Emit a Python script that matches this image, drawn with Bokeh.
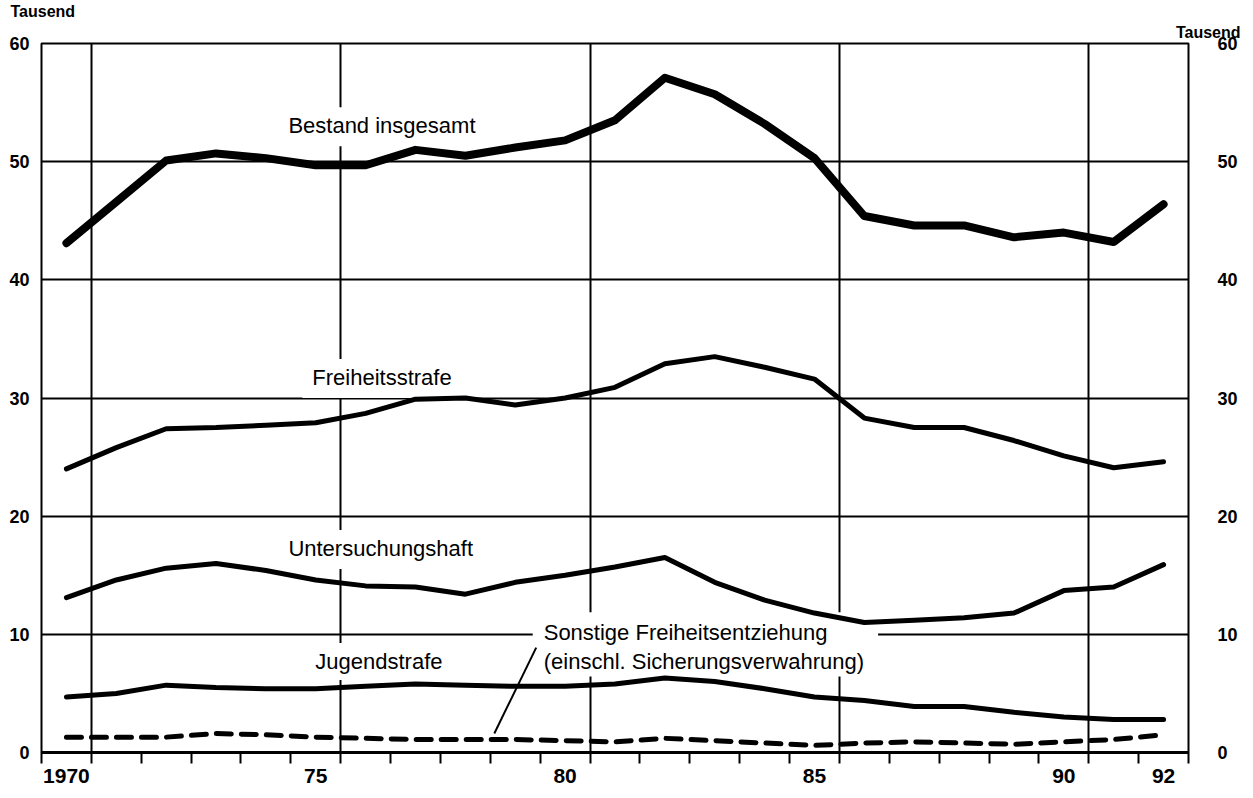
from bokeh.plotting import figure
from bokeh.models import Range1d, LinearAxis, FixedTicker, Label, Title
from bokeh.embed import file_html
from bokeh.resources import INLINE

years = list(range(1970, 1993))
bestand = [43.1, 46.6, 50.1, 50.7, 50.3, 49.7, 49.7, 51.0, 50.5, 51.2, 51.8, 53.5,
           57.1, 55.7, 53.2, 50.3, 45.4, 44.6, 44.6, 43.6, 44.0, 43.2, 46.4]
freiheitsstrafe = [24.0, 25.8, 27.4, 27.5, 27.7, 27.9, 28.7, 29.9, 30.0, 29.4, 30.0, 30.9,
                   32.9, 33.5, 32.6, 31.6, 28.3, 27.5, 27.5, 26.4, 25.1, 24.1, 24.6]
untersuchungshaft = [13.1, 14.6, 15.6, 16.0, 15.4, 14.6, 14.1, 14.0, 13.4, 14.4, 15.0, 15.7,
                     16.5, 14.4, 12.9, 11.8, 11.0, 11.2, 11.4, 11.8, 13.7, 14.0, 15.9]
jugendstrafe = [4.7, 5.0, 5.7, 5.5, 5.4, 5.4, 5.6, 5.8, 5.7, 5.6, 5.6, 5.8,
                6.3, 6.0, 5.4, 4.7, 4.4, 3.9, 3.9, 3.4, 3.0, 2.8, 2.8]
sonstige = [1.3, 1.3, 1.3, 1.6, 1.5, 1.3, 1.2, 1.1, 1.1, 1.1, 1.0, 0.9,
            1.2, 1.0, 0.8, 0.6, 0.8, 0.9, 0.8, 0.7, 0.9, 1.1, 1.5]

x_tick_labels = {1970: "1970", 1975: "75", 1980: "80", 1985: "85", 1990: "90", 1992: "92"}
y_ticks = [0, 10, 20, 30, 40, 50, 60]
grid_years = [1970.5, 1975.5, 1980.5, 1985.5, 1990.5]
unit_text = "Tausend"

FONT = "Liberation Sans"
W, H = 1253, 798

p = figure(width=W, height=H, output_backend="svg", toolbar_location=None,
           x_range=Range1d(1969.5, 1992.5), y_range=Range1d(0, 60),
           min_border_left=41, min_border_right=65, min_border_top=43, min_border_bottom=46,
           x_axis_location=None, y_axis_location=None)
p.background_fill_color = "white"
p.border_fill_color = "white"
p.outline_line_color = "black"
p.outline_line_width = 2

# x axis
xaxis = LinearAxis(ticker=FixedTicker(ticks=list(x_tick_labels.keys()),
                                      minor_ticks=[y - 0.5 for y in years] + [1992.5]))
xaxis.major_label_overrides = x_tick_labels
xaxis.major_tick_out = 0
xaxis.major_tick_in = 0
xaxis.minor_tick_out = 11
xaxis.minor_tick_in = 0
xaxis.minor_tick_line_width = 2
xaxis.minor_tick_line_color = "black"
xaxis.axis_line_width = 3
xaxis.axis_line_color = "black"
xaxis.major_label_standoff = 5
xaxis.major_label_text_font = FONT
xaxis.major_label_text_font_style = "bold"
xaxis.major_label_text_font_size = "21px"
xaxis.major_label_text_color = "black"
p.add_layout(xaxis, "below")

for side, standoff in (("left", 12), ("right", 29)):
    ax = LinearAxis(ticker=FixedTicker(ticks=y_ticks))
    ax.major_tick_out = 0
    ax.major_tick_in = 0
    ax.minor_tick_out = 0
    ax.minor_tick_in = 0
    ax.axis_line_color = None
    ax.major_label_standoff = standoff
    ax.major_label_text_font = FONT
    ax.major_label_text_font_style = "bold"
    ax.major_label_text_font_size = "18px"
    ax.major_label_text_color = "black"
    p.add_layout(ax, side)

p.xgrid.ticker = FixedTicker(ticks=grid_years)
p.ygrid.ticker = FixedTicker(ticks=[10, 20, 30, 40, 50])
for g in (p.xgrid, p.ygrid):
    g.grid_line_color = "black"
    g.grid_line_width = 2

# unit titles ("Tausend") above the frame
t_right = Title(text=unit_text, align="right", offset=-52, standoff=5,
                text_font=FONT, text_font_size="16px", text_font_style="bold",
                text_color="black")
t_left = Title(text=unit_text, align="left", offset=-31, standoff=0,
               text_font=FONT, text_font_size="16px", text_font_style="bold",
               text_color="black")
p.add_layout(t_right, "above")
p.add_layout(t_left, "above")

# series labels with white background (break grid lines)
def add_label(x, y, text, size="22px", pad=None):
    lab = Label(x=x, y=y, text=text, text_font=FONT, text_font_size=size,
                text_color="black", text_baseline="alphabetic",
                text_align="left", level="underlay", text_line_height=1.13)
    lab.background_fill_color = "white"
    lab.padding = pad if pad else dict(left=10, right=10, top=6, bottom=8)
    p.add_layout(lab)
    return lab

add_label(1974.25, 52.96, "Bestand insgesamt")
add_label(1974.73, 31.64, "Freiheitsstrafe")
add_label(1974.25, 17.17, "Untersuchungshaft")
add_label(1974.79, 7.70, "Jugendstrafe", pad=dict(left=10, right=10, top=6, bottom=6))
add_label(1979.35, 9.14, "Sonstige Freiheitsentziehung\n(einschl. Sicherungsverwahrung)",
          pad=dict(left=11, right=14, top=8, bottom=3))

# leader line
p.segment(x0=[1979.42], y0=[8.88], x1=[1978.58], y1=[1.61], line_color="black", line_width=2)

# data lines
p.line(years, bestand, line_color="black", line_width=8, line_join="round", line_cap="round")
for s in (freiheitsstrafe, untersuchungshaft, jugendstrafe):
    p.line(years, s, line_color="black", line_width=5, line_join="round", line_cap="round")
p.line(years, sonstige, line_color="black", line_width=5, line_dash="15 10",
       line_join="round", line_cap="round")

open("out.html", "w").write(file_html(p, INLINE))
